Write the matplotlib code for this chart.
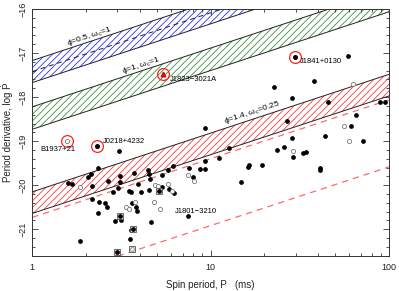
import numpy as np
import matplotlib
matplotlib.use("Agg")
import matplotlib.pyplot as plt
from matplotlib.ticker import MultipleLocator, FixedLocator, FixedFormatter, NullFormatter, LogLocator

plt.rcParams['font.family'] = ['Liberation Sans', 'DejaVu Sans']
plt.rcParams['hatch.linewidth'] = 0.55

# ---------------- data ----------------
# filled dots: spin period (ms), log Pdot
filled_P = [3.075, 2.345, 2.133, 2.043, 3.101, 3.700, 4.472, 2.645, 2.170, 3.088,
            1.592, 1.676, 3.036, 4.529, 4.568, 5.333, 5.788, 6.173, 7.590, 7.993,
            3.896, 3.483, 3.559, 2.846, 4.067, 4.490, 5.357, 5.814, 6.253, 2.170,
            2.365, 2.567, 2.634, 2.325, 3.606, 3.814, 3.880, 3.128, 2.908, 3.559,
            4.628, 3.513, 1.858, 7.429,
            22.63, 38.09, 28.44, 45.25, 88.92, 95.26, 9.292, 26.66, 65.24, 61.15,
            28.56, 43.53, 71.10, 12.72, 23.63, 25.64, 28.81, 32.77, 34.06, 9.292,
            11.13, 8.710, 9.292, 16.11, 16.47, 19.31, 14.79, 41.00, 41.00, 59.06]
filled_logPdot = [-19.23, -19.62, -19.75, -19.82, -19.78, -19.72, -19.66, -19.90, -20.02, -19.92,
                  -19.96, -19.98, -20.07, -19.75, -19.87, -19.77, -19.66, -19.56, -19.62, -19.81,
                  -19.98, -20.12, -20.16, -20.15, -20.15, -20.11, -20.05, -20.09, -20.17, -20.31,
                  -20.39, -20.40, -20.49, -20.62, -20.40, -20.49, -20.59, -20.79, -20.81, -21.02,
                  -20.83, -21.21, -21.27, -20.71,
                  -17.76, -17.63, -18.01, -18.10, -18.10, -18.11, -18.71, -18.54, -18.41, -18.66,
                  -18.92, -18.88, -18.99, -19.16, -19.21, -19.13, -19.35, -19.27, -19.24, -19.44,
                  -19.38, -19.63, -19.63, -19.59, -19.54, -19.55, -19.93, -19.60, -19.66, -17.07]

open_P = [1.852, 4.852, 5.088, 5.763, 6.069, 7.429, 8.097, 3.780, 3.366, 3.469,
          4.811, 5.197, 63.03, 55.86, 59.86, 28.81]
open_logPdot = [-20.05, -19.99, -20.02, -19.97, -20.12, -19.77, -19.91, -20.39, -20.50, -20.54,
                -20.39, -20.55, -17.70, -18.66, -18.99, -19.22]

boxed_P = [5.153, 3.101, 3.668, 3.606, 2.972]
boxed_logPdot = [-20.12, -20.71, -20.99, -21.45, -21.51]
boxed_filled = [True, True, True, False, True]

# highlighted pulsars
hl_names = ['B1937+21', 'J0218+4232', 'J1823\u22123021A', 'J1841+0130']
hl_P = [1.558, 2.307, 5.42, 29.72]
hl_logPdot = [-18.99, -19.11, -17.48, -17.10]
hl_inner = ['open', 'filled', 'triangle', 'filled']
hl_label_P = [1.399, 3.266, 7.99, 41.4]
hl_label_logPdot = [-19.19, -19.01, -17.59, -17.20]

extra_label = 'J1801\u22123210'
extra_label_P = 8.22
extra_label_logPdot = -20.59

# spin-equilibrium bands: log Pdot = a + slope*log P  (P in ms)
slope = 4.0 / 3.0
band_names = [r'ϕ=0.5, ω$_{\rm c}$=1', r'ϕ=1, ω$_{\rm c}$=1', r'ϕ=1.4, ω$_{\rm c}$=0.25']
band_upper = [-17.17, -18.22, -20.15]
band_lower = [-17.67, -18.73, -20.64]
band_colors = ['#2020ff', '#2a8a2a', '#ff2a2a']
band_label_P = [2.106, 4.09, 17.15]
band_label_logPdot = [-16.613, -17.271, -18.35]
blue_mid = -17.42
red_dashed = [-20.73, -22.25]

# ---------------- figure ----------------
fig = plt.figure(figsize=(3.99, 2.91), dpi=100)
ax = fig.add_axes([32.3/399, 1 - 255.7/291, (389 - 32.3)/399, (255.7 - 9)/291])
ax.set_xscale('log')
ax.set_xlim(1, 100)
ax.set_ylim(-21.6, -16)

Pg = np.logspace(0, 2, 300)
lg = np.log10(Pg)
for up, lo, c in zip(band_upper, band_lower, band_colors):
    ax.fill_between(Pg, lo + slope*lg, up + slope*lg, facecolor='none', edgecolor=c,
                    hatch='/////', linewidth=0, zorder=1)
    ax.plot(Pg, up + slope*lg, color='#222222', lw=0.7, zorder=2)
    ax.plot(Pg, lo + slope*lg, color='#222222', lw=0.7, zorder=2)
ax.plot(Pg, blue_mid + slope*lg, color='#222222', lw=0.7, ls=(0, (5, 4)), zorder=2)
for a in red_dashed:
    ax.plot(Pg, a + slope*lg, color='#ff6a6a', lw=0.9, ls=(0, (5, 4)), zorder=2)

fig.canvas.draw()
p1 = ax.transData.transform((1, 0))
p2 = ax.transData.transform((100, 2*slope))
ang = np.degrees(np.arctan2(p2[1]-p1[1], p2[0]-p1[0]))
for name, x, y in zip(band_names, band_label_P, band_label_logPdot):
    ax.text(x, y, name, rotation=ang, rotation_mode='anchor', ha='center', va='center',
            fontsize=6, zorder=4)

ax.plot(filled_P, filled_logPdot, 'o', ms=2.4, color='black', mec='black', zorder=3)
ax.plot(open_P, open_logPdot, 'o', ms=3.0, mfc='white', mec='#777777', mew=0.6, zorder=3)
for x, y, f in zip(boxed_P, boxed_logPdot, boxed_filled):
    ax.plot(x, y, 's', ms=4.2, mfc='#dddddd', mec='#555555', mew=0.6, zorder=3)
    if f:
        ax.plot(x, y, 'o', ms=2.4, color='black', zorder=3.5)
    else:
        ax.plot(x, y, 'o', ms=2.6, mfc='white', mec='#777777', mew=0.5, zorder=3.5)

for name, x, y, inner, lx, ly in zip(hl_names, hl_P, hl_logPdot, hl_inner, hl_label_P, hl_label_logPdot):
    ax.plot(x, y, 'o', ms=8.5, mfc='none', mec='#ff2020', mew=0.9, zorder=3)
    if inner == 'open':
        ax.plot(x, y, 'o', ms=3.0, mfc='white', mec='#777777', mew=0.6, zorder=3)
    elif inner == 'filled':
        ax.plot(x, y, 'o', ms=2.6, color='black', zorder=3)
    else:
        ax.plot(x, y, '^', ms=3.4, color='#cc1010', zorder=3)
    ax.text(lx, ly, name, ha='center', va='center', fontsize=5.5, zorder=4)
ax.text(extra_label_P, extra_label_logPdot, extra_label, ha='center', va='center',
        fontsize=5.5, zorder=4)

# ---------------- axes ----------------
ax.yaxis.set_major_locator(MultipleLocator(1))
ax.yaxis.set_minor_locator(MultipleLocator(0.2))
ax.yaxis.set_major_formatter(matplotlib.ticker.FuncFormatter(lambda v, p: f'\u2212{abs(v):.0f}'))
ax.xaxis.set_major_locator(FixedLocator([1, 10, 100]))
ax.xaxis.set_major_formatter(FixedFormatter(['1', '10', '100']))
ax.xaxis.set_minor_locator(LogLocator(base=10, subs=np.arange(2, 10)))
ax.xaxis.set_minor_formatter(NullFormatter())
ax.tick_params(which='both', direction='in', top=True, right=True, width=0.6, colors='#333333',
               labelcolor='#222222', labelsize=6.5)
ax.tick_params(which='major', length=4.5)
ax.tick_params(which='minor', length=2.5)
ax.tick_params(axis='x', pad=5)
for lab in ax.get_yticklabels():
    lab.set_rotation(90)
    lab.set_va('center')
for s in ax.spines.values():
    s.set_linewidth(0.7)
    s.set_color('#333333')

ax.set_xlabel('Spin period, P   (ms)', fontsize=7, labelpad=6, color='#222222')
ax.set_ylabel('Period derivative, log Ṗ', fontsize=7, labelpad=4, color='#222222')

fig.savefig('out.png', dpi=100)
